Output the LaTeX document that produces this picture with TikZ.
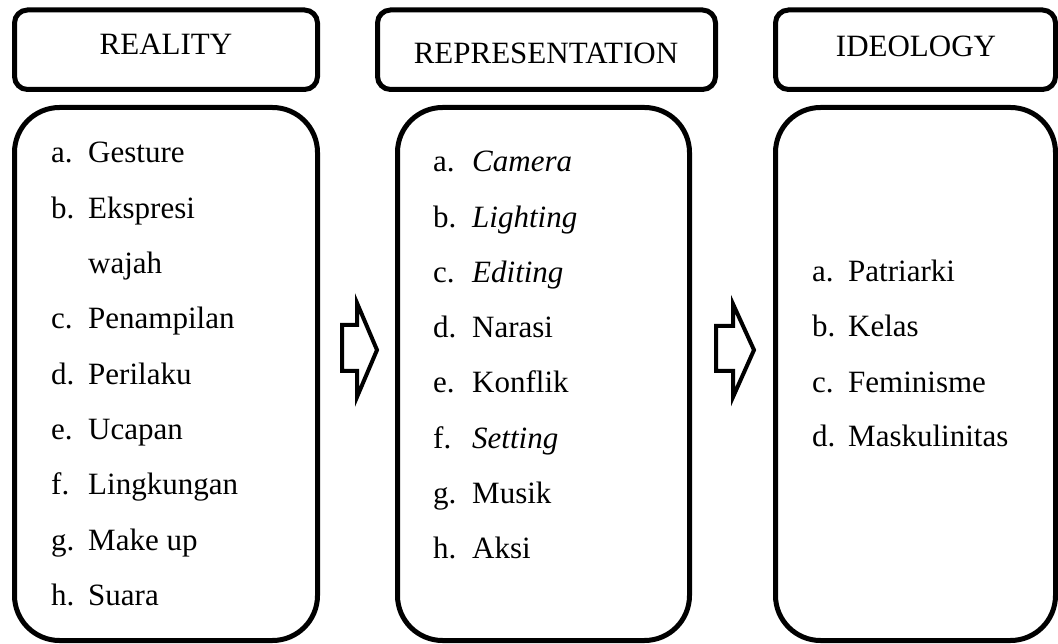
\documentclass[tikz,border=0pt]{standalone}
\usepackage{fontspec}
\setmainfont{Liberation Serif}
\begin{document}
\begin{tikzpicture}[x=1pt,y=-1pt,
  headbox/.style={draw, line width=5pt, rounded corners=13pt, inner sep=0pt},
  listbox/.style={draw, line width=5pt, rounded corners=45pt, inner sep=0pt},
  txt/.style={anchor=base west, inner sep=0pt, font=\fontsize{31}{37}\selectfont},
  ttl/.style={anchor=base, inner sep=0pt, font=\fontsize{31}{37}\selectfont},
  blockarrow/.style={draw, line width=4pt, miter limit=10, line join=miter}]
\useasboundingbox (0,0) rectangle (1058,644);
% header boxes
\node[headbox, minimum width=303pt, minimum height=79.5pt] (hReal) at (166,49.75) {};
\node[headbox, minimum width=338pt, minimum height=79.5pt] (hRep) at (546.5,49.75) {};
\node[headbox, minimum width=280pt, minimum height=79.5pt] (hIdeo) at (915.5,49.75) {};
\node[ttl] (tReal) at (166,55) {REALITY};
\node[ttl] (tRep) at (546,64) {REPRESENTATION};
\node[ttl] (tIdeo) at (916,57) {IDEOLOGY};
% list boxes
\node[listbox, minimum width=303pt, minimum height=533pt] (lReal) at (166,374) {};
\node[listbox, minimum width=292pt, minimum height=533pt] (lRep) at (543.5,374) {};
\node[listbox, minimum width=280pt, minimum height=533pt] (lIdeo) at (915.5,374) {};
% reality list
\node[txt] (ra) at (51,163) {a.}; \node[txt] (rat) at (88,163) {Gesture};
\node[txt] (rb) at (51,218.3) {b.}; \node[txt] (rbt) at (88,218.3) {Ekspresi};
\node[txt] (rbw) at (88,273.6) {wajah};
\node[txt] (rc) at (51,328.9) {c.}; \node[txt] (rct) at (88,328.9) {Penampilan};
\node[txt] (rd) at (51,384.2) {d.}; \node[txt] (rdt) at (88,384.2) {Perilaku};
\node[txt] (re) at (51,439.5) {e.}; \node[txt] (ret) at (88,439.5) {Ucapan};
\node[txt] (rf) at (51,494.8) {f.}; \node[txt] (rft) at (88,494.8) {Lingkungan};
\node[txt] (rg) at (51,550.1) {g.}; \node[txt] (rgt) at (88,550.1) {Make up};
\node[txt] (rh) at (51,605.4) {h.}; \node[txt] (rht) at (88,605.4) {Suara};
% representation list
\node[txt] (pa) at (433,172) {a.}; \node[txt] (pat) at (472,172) {\itshape Camera};
\node[txt] (pb) at (433,227.2) {b.}; \node[txt] (pbt) at (472,227.2) {\itshape Lighting};
\node[txt] (pc) at (433,282.4) {c.}; \node[txt] (pct) at (472,282.4) {\itshape Editing};
\node[txt] (pd) at (433,337.6) {d.}; \node[txt] (pdt) at (472,337.6) {Narasi};
\node[txt] (pe) at (433,392.8) {e.}; \node[txt] (pet) at (472,392.8) {Konflik};
\node[txt] (pf) at (433,448) {f.}; \node[txt] (pft) at (472,448) {\itshape Setting};
\node[txt] (pg) at (433,503.2) {g.}; \node[txt] (pgt) at (472,503.2) {Musik};
\node[txt] (ph) at (433,558.4) {h.}; \node[txt] (pht) at (472,558.4) {Aksi};
% ideology list
\node[txt] (ia) at (812,282) {a.}; \node[txt] (iat) at (848,282) {Patriarki};
\node[txt] (ib) at (812,337) {b.}; \node[txt] (ibt) at (848,337) {Kelas};
\node[txt] (ic) at (812,392) {c.}; \node[txt] (ict) at (848,392) {Feminisme};
\node[txt] (id) at (812,446) {d.}; \node[txt] (idt) at (848,446) {Maskulinitas};
% block arrows
\draw[blockarrow] (342,325) -- (357,325) -- (357,303) -- (377,350) -- (357,397) -- (357,371) -- (342,371) -- cycle;
\draw[blockarrow] (716,326) -- (733,326) -- (733,304) -- (754,350) -- (733,397) -- (733,371) -- (716,371) -- cycle;
\end{tikzpicture}
\end{document}
